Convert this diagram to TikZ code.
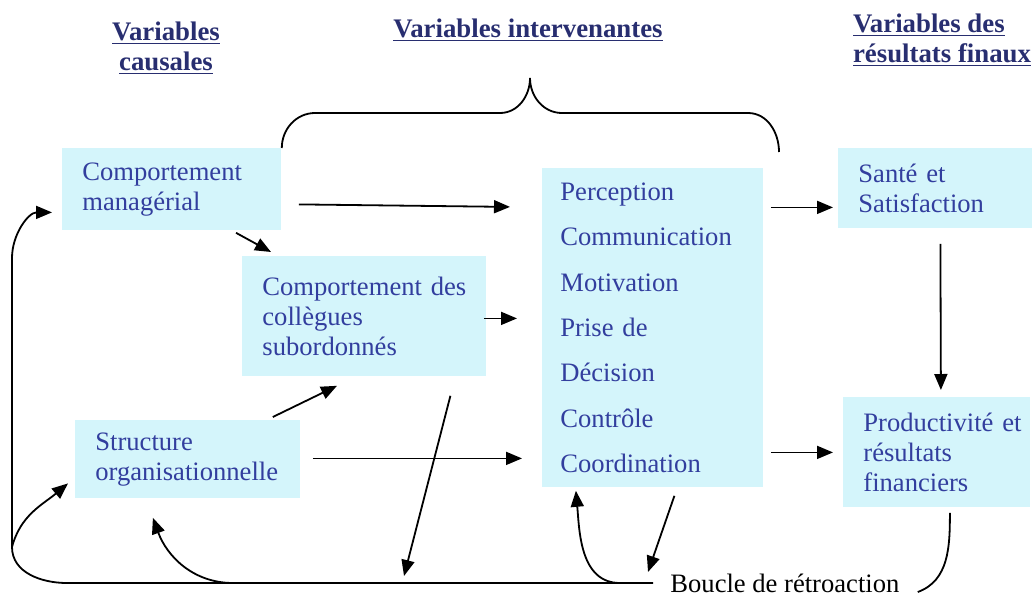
\documentclass[tikz,border=0pt]{standalone}
\usepackage{fontspec}
\setmainfont{Liberation Serif}
\usetikzlibrary{arrows.meta}
\definecolor{boxcyan}{RGB}{212,245,251}
\definecolor{inkblue}{RGB}{50,62,158}
\definecolor{headblue}{RGB}{40,46,112}
\begin{document}
\begin{tikzpicture}[x=0.5pt, y=-0.5pt, var/.style={fill=boxcyan, text=inkblue, anchor=north west, align=left, inner xsep=10pt, inner ysep=0pt, font=\fontsize{13.3}{15}\selectfont}, head/.style={text=headblue, font=\fontsize{13.4}{15}\selectfont\bfseries}, arr/.style={-{Triangle[length=8pt,width=6.5pt]}, line width=0.9pt}, loop/.style={line width=0.9pt}, lbl/.style={font=\fontsize{13.3}{15}\selectfont, inner sep=0pt, anchor=west}]
\useasboundingbox (0,0) rectangle (1032,595);
\node[head, align=center] (causal) at (166,48) {\underline{Variables}\\\underline{causales}}; \node[head] (intervening-head) at (528,30) {\underline{Variables intervenantes}}; \node[head, align=left, anchor=west] (final) at (846,40) {\underline{Variables des}\\\underline{résultats finaux}};
\node[var, text width=89.5pt, minimum height=41pt] (managerial) at (62,148) {Comportement\\managérial}; \node[var, text width=102pt, minimum height=60pt] (colleagues) at (242,256) {Comportement~des\\collègues\\subordonnés}; \node[var, text width=92.5pt, minimum height=39pt] (structure) at (75,420) {Structure\\organisationnelle};
\node[var, inner xsep=9pt, text width=92.5pt, minimum height=159.5pt, font=\fontsize{13.3}{22.7}\selectfont] (intervening) at (542,168) {Perception\\Communication\\Motivation\\Prise de\\Décision\\Contrôle\\Coordination};
\node[var, text width=77pt, minimum height=40pt] (health) at (838,148) {Santé et\\Satisfaction}; \node[var, text width=73.5pt, minimum height=55pt] (productivity) at (843,397) {Productivité~et\\résultats\\financiers};
\node[lbl] (feedback) at (670,583) {Boucle de rétroaction};
% brace over the intervening variables
\draw[loop] (managerial.north east) to[out=90,in=180] (315,113) -- (500,113) to[out=0,in=-90] (530,78) to[out=-90,in=180] (562,113) -- (748,113) to[out=0,in=90] (779,152);
\draw[arr] ([shift={(17,15)}]managerial.east) -- ([shift={(-32,-121)}]intervening.west); \draw[arr] ([shift={(174,2)}]managerial.south west) -- ([shift={(29,-4)}]colleagues.north west); \draw[arr] ([shift={(-3,2)}]colleagues.east) -- ([shift={(-25,-9.5)}]intervening.west);
\draw[arr] ([shift={(-28,-3)}]structure.north east) -- ([shift={(95,9)}]colleagues.south west); \draw[arr] ([shift={(12,-1)}]structure.east) -- ([shift={(-20,130.5)}]intervening.west);
\draw[arr] ([shift={(7,-120.5)}]intervening.east) -- ([shift={(-5,19)}]health.west); \draw[arr] ([shift={(7,124.5)}]intervening.east) -- ([shift={(-10,0)}]productivity.west); \draw[arr] ([shift={(5,15)}]health.south) -- ([shift={(4,-7)}]productivity.north);
% feedback loop
\coordinate (corner) at (12,547); \coordinate (fbA) at (233,583); \coordinate (fbB) at (620,583); \coordinate (fbDrop) at (404,576); \coordinate (fbStart) at (653,583);
\draw[arr] (fbStart) -- (67,583) to[out=180,in=-90] (corner) -- (12,258) to[out=90,in=180] ([shift={(-10,23)}]managerial.west);
\draw[arr] (corner) to[out=75,in=-140] ([shift={(-7,24)}]structure.west); \draw[arr] (fbA) to[out=180,in=-70] ([shift={(-35,19)}]structure.south); \draw[arr] (fbB) to[out=180,in=-85] ([shift={(-77,3)}]intervening.south);
\draw[arr] ([shift={(86,19)}]colleagues.south) -- (fbDrop); \draw[arr] ([shift={(21.5,8)}]intervening.south) -- ([shift={(-22,-11)}]feedback.west); \draw[loop] ([shift={(13,5)}]productivity.south) to[out=-90,in=20] ([shift={(18,9)}]feedback.east);
\end{tikzpicture}
\end{document}
